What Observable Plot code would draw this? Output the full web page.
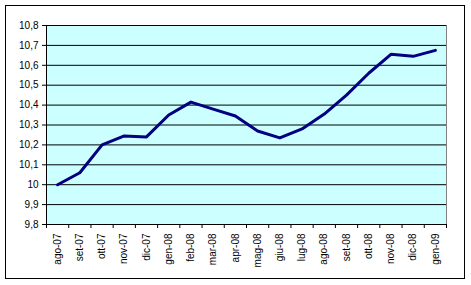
<!DOCTYPE html>
<html>
<head>
<meta charset="utf-8">
<script src="https://cdn.jsdelivr.net/npm/d3@7"></script>
<script src="https://cdn.jsdelivr.net/npm/@observablehq/plot@0.6"></script>
<style>
  html, body { margin: 0; padding: 0; background: #ffffff; }
  #wrap { position: relative; width: 471px; height: 285px; }
  #frame { position: absolute; left: 5px; top: 5px; width: 458px; height: 272px; border: 1px solid #000; pointer-events: none; }
</style>
</head>
<body>
<div id="wrap"><div id="frame"></div></div>
<script>
const months = ["ago-07","set-07","ott-07","nov-07","dic-07","gen-08","feb-08","mar-08","apr-08","mag-08","giu-08","lug-08","ago-08","set-08","ott-08","nov-08","dic-08","gen-09"];
const values = [10.00, 10.06, 10.20, 10.245, 10.24, 10.35, 10.415, 10.38, 10.345, 10.27, 10.235, 10.28, 10.355, 10.45, 10.56, 10.655, 10.645, 10.675];
const yTicks = [9.8, 9.9, 10.0, 10.1, 10.2, 10.3, 10.4, 10.5, 10.6, 10.7, 10.8];

const data = months.map((m, i) => ({i: i + 0.5, label: m, v: values[i]}));
const fmt = d => String(+d.toFixed(1)).replace(".", ",");

const chart = Plot.plot({
  width: 471,
  height: 285,
  marginLeft: 46,
  marginRight: 25,
  marginTop: 25,
  marginBottom: 61,
  style: {fontFamily: "Arial, 'Liberation Sans', sans-serif", fontSize: "10px", color: "#000", background: "transparent"},
  x: {type: "linear", domain: [0, months.length]},
  y: {domain: [9.8, 10.8]},
  marks: [
    Plot.frame({fill: "#ccffff", stroke: "#808080"}),
    Plot.ruleY(yTicks, {stroke: "#000", strokeWidth: 1}),
    Plot.ruleX([0], {stroke: "#000"}),
    Plot.axisY({ticks: yTicks, tickFormat: fmt, tickSize: 4, tickPadding: 4, label: null, fontSize: 10}),
    Plot.axisX({ticks: d3.range(0, months.length + 1), tickFormat: () => "", tickSize: 4, label: null}),
    Plot.axisX({ticks: data.map(d => d.i), tickFormat: d => months[Math.floor(d)], tickSize: 0, tickPadding: 9, tickRotate: -90, label: null, fontSize: 10}),
    Plot.line(data, {x: "i", y: "v", stroke: "#000080", strokeWidth: 3, strokeLinejoin: "round"})
  ]
});
document.getElementById("wrap").prepend(chart);
</script>
</body>
</html>
